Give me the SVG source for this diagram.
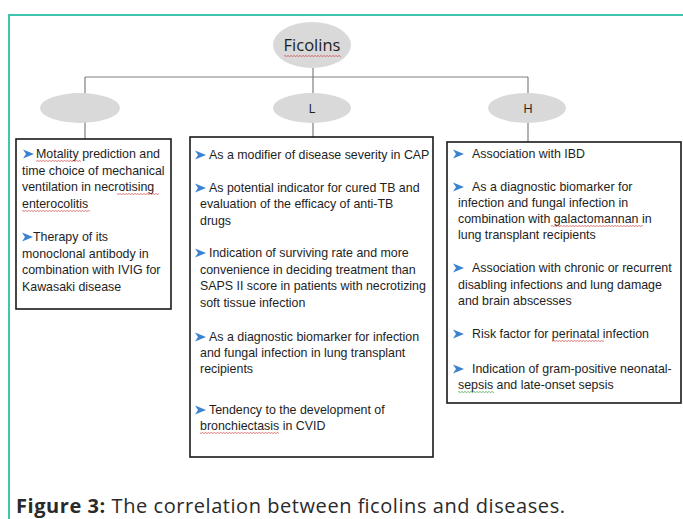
<svg xmlns="http://www.w3.org/2000/svg" width="683" height="519" viewBox="0 0 683 519">
<style>
.frame{fill:none;stroke:#3fc4b0;stroke-width:2}
.ell{fill:#d9d9d9;stroke:none}
.conn{fill:none;stroke:#808080;stroke-width:1.2}
.box{fill:#fff;stroke:#1a1a1a;stroke-width:1.6}
.t{font-family:"Liberation Sans",Arial,sans-serif;font-size:12.4px;fill:#1e1e1e}
.lbl{font-family:"Open Sans","Liberation Sans",sans-serif;fill:#1e1e1e;text-anchor:middle}
.cap{font-family:"Open Sans","Liberation Sans",sans-serif;font-size:20px;fill:#2a2a2a}
</style>
<defs>
<polygon id="bul" points="0,-4.5 11,0 0,4.5 3,0" fill="#3b82d0"/>
<pattern id="wr" width="3" height="2" patternUnits="userSpaceOnUse"><path d="M0,1.5 L1.5,0.5 L3,1.5" fill="none" stroke="#d04040" stroke-width="0.7"/></pattern>
<pattern id="wg" width="3" height="2" patternUnits="userSpaceOnUse"><path d="M0,1.5 L1.5,0.5 L3,1.5" fill="none" stroke="#3a9a3a" stroke-width="0.7"/></pattern>
</defs>
<path class="frame" d="M9,519 V15 H683"/>
<g id="connectors">
<path class="conn" d="M313,68 V77 M85,77 H528 M85,77 V95 M313,77 V95 M528,77 V95"/>
<path class="conn" d="M85,122 V139 M313,122 V137 M528,122 V142"/>
</g>
<g id="ficolins">
<ellipse class="ell" cx="312" cy="45" rx="39" ry="23"/>
<text class="lbl" x="312" y="51" font-size="16.5">Ficolins</text>
<rect x="284" y="55" width="57" height="2" fill="url(#wr)"/>
</g>
<g id="node-left">
<ellipse class="ell" cx="80" cy="108" rx="40" ry="15"/>
</g>
<g id="node-L">
<ellipse class="ell" cx="312" cy="108" rx="39" ry="15"/>
<text class="lbl" x="312" y="113" font-size="13">L</text>
</g>
<g id="node-H">
<ellipse class="ell" cx="527" cy="108" rx="39" ry="15"/>
<text class="lbl" x="528" y="113" font-size="13">H</text>
</g>
<g id="box-left">
<rect class="box" x="16" y="139" width="155" height="170"/>
<use href="#bul" x="23" y="154"/>
<use href="#bul" x="22" y="237"/>
<text class="t" x="36" y="158">Motality prediction  and</text>
<text class="t" x="22" y="175">time choice of mechanical</text>
<text class="t" x="22" y="191">ventilation in  necrotising</text>
<text class="t" x="22" y="208">enterocolitis</text>
<text class="t" x="33" y="241">Therapy of its</text>
<text class="t" x="22" y="258">monoclonal antibody in</text>
<text class="t" x="22" y="274">combination with IVIG for</text>
<text class="t" x="22" y="291">Kawasaki disease</text>
<rect x="36" y="160" width="45" height="2" fill="url(#wr)"/>
<rect x="117" y="193" width="42" height="2" fill="url(#wr)"/>
<rect x="22" y="210" width="68" height="2" fill="url(#wr)"/>
</g>
<g id="box-L">
<rect class="box" x="190" y="137" width="243" height="320"/>
<use href="#bul" x="195" y="155"/>
<use href="#bul" x="195" y="188"/>
<use href="#bul" x="195" y="253"/>
<use href="#bul" x="195" y="337"/>
<use href="#bul" x="195" y="410"/>
<text class="t" x="209" y="159">As a modifier of disease severity in CAP</text>
<text class="t" x="209" y="192">As potential indicator for cured TB and</text>
<text class="t" x="200" y="208">evaluation of the efficacy of anti-TB</text>
<text class="t" x="200" y="225">drugs</text>
<text class="t" x="209" y="257">Indication of surviving rate and more</text>
<text class="t" x="200" y="274">convenience in deciding treatment than</text>
<text class="t" x="200" y="290">SAPS II score in patients with necrotizing</text>
<text class="t" x="200" y="307">soft tissue infection</text>
<text class="t" x="209" y="341">As a diagnostic biomarker for infection</text>
<text class="t" x="200" y="357">and fungal infection in lung transplant</text>
<text class="t" x="200" y="373">recipients</text>
<text class="t" x="209" y="414">Tendency to the development of</text>
<text class="t" x="200" y="430">bronchiectasis in CVID</text>
<rect x="200" y="432" width="79" height="2" fill="url(#wr)"/>
</g>
<g id="box-H">
<rect class="box" x="447" y="142" width="234" height="261"/>
<use href="#bul" x="453" y="154"/>
<use href="#bul" x="453" y="187"/>
<use href="#bul" x="453" y="268"/>
<use href="#bul" x="453" y="334"/>
<use href="#bul" x="453" y="369"/>
<text class="t" x="472" y="158">Association with IBD</text>
<text class="t" x="472" y="191">As a diagnostic biomarker for</text>
<text class="t" x="458" y="207">infection and fungal infection in</text>
<text class="t" x="458" y="223">combination with galactomannan in</text>
<text class="t" x="458" y="239">lung transplant recipients</text>
<text class="t" x="472" y="272">Association with chronic or recurrent</text>
<text class="t" x="458" y="289">disabling infections and lung damage</text>
<text class="t" x="458" y="305">and brain abscesses</text>
<text class="t" x="472" y="338">Risk factor for perinatal infection</text>
<text class="t" x="472" y="373">Indication of gram-positive neonatal-</text>
<text class="t" x="458" y="389">sepsis and late-onset sepsis</text>
<rect x="551" y="225" width="92" height="2" fill="url(#wr)"/>
<rect x="552" y="340" width="52" height="2" fill="url(#wr)"/>
<rect x="458" y="391" width="36" height="2" fill="url(#wg)"/>
</g>
<text class="cap" x="16" y="513" textLength="549" lengthAdjust="spacing"><tspan font-weight="bold">Figure 3:</tspan> The correlation between ficolins and diseases.</text>
</svg>
